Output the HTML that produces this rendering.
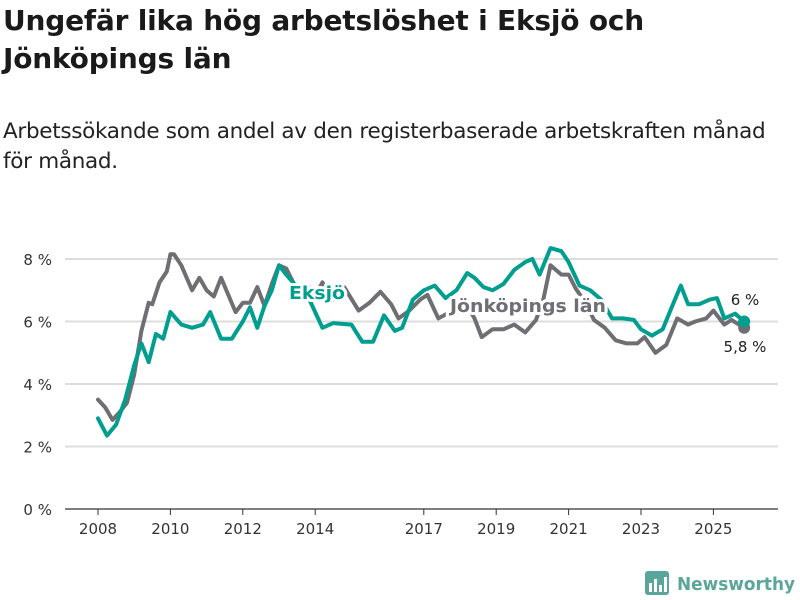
<!DOCTYPE html>
<html><head><meta charset="utf-8"><style>
body{margin:0;background:#fff;font-family:"DejaVu Sans","Liberation Sans",sans-serif;}
#w{position:relative;width:800px;height:600px;overflow:hidden}
h1{position:absolute;left:3px;top:2px;margin:0;font-size:28px;line-height:38px;font-weight:bold;color:#1a1a1a;letter-spacing:-0.2px}
p.sub{position:absolute;left:3px;top:117px;margin:0;font-size:21.5px;line-height:30px;color:#222;letter-spacing:-0.3px}
svg{position:absolute;left:0;top:0}
</style></head><body><div id="w">
<h1>Ungefär lika hög arbetslöshet i Eksjö och<br>Jönköpings län</h1>
<p class="sub">Arbetssökande som andel av den registerbaserade arbetskraften månad<br>för månad.</p>
<svg id="c" width="800" height="600"></svg>
</div>
<script>
const eksDates=[2008.0,2008.25,2008.5,2008.75,2009.0,2009.2,2009.4,2009.6,2009.8,2010.0,2010.3,2010.6,2010.9,2011.1,2011.4,2011.7,2012.0,2012.2,2012.4,2012.6,2012.8,2013.0,2013.2,2013.5,2013.8,2014.2,2014.5,2015.0,2015.3,2015.6,2015.9,2016.2,2016.4,2016.7,2017.0,2017.3,2017.6,2017.9,2018.2,2018.4,2018.65,2018.9,2019.2,2019.5,2019.8,2020.0,2020.2,2020.5,2020.8,2021.0,2021.3,2021.6,2021.9,2022.2,2022.5,2022.8,2023.0,2023.3,2023.6,2023.9,2024.1,2024.3,2024.6,2024.9,2025.1,2025.3,2025.6,2025.85];
const eksVals=[2.9,2.35,2.7,3.5,4.6,5.3,4.7,5.6,5.45,6.3,5.9,5.8,5.9,6.3,5.45,5.45,6.0,6.45,5.8,6.5,7.0,7.8,7.5,7.1,6.8,5.8,5.95,5.9,5.35,5.35,6.2,5.7,5.8,6.7,7.0,7.15,6.75,7.0,7.55,7.4,7.1,7.0,7.2,7.65,7.9,8.0,7.5,8.35,8.25,7.9,7.15,7.0,6.7,6.1,6.1,6.05,5.75,5.55,5.75,6.6,7.15,6.55,6.55,6.7,6.75,6.1,6.25,6.0];
const jkpDates=[2008.0,2008.2,2008.4,2008.6,2008.8,2009.0,2009.2,2009.4,2009.5,2009.7,2009.9,2010.0,2010.1,2010.3,2010.6,2010.8,2011.0,2011.2,2011.4,2011.6,2011.8,2012.0,2012.2,2012.4,2012.6,2012.8,2013.0,2013.2,2013.5,2013.8,2014.0,2014.2,2014.5,2014.8,2015.2,2015.5,2015.8,2016.1,2016.3,2016.6,2016.9,2017.1,2017.4,2017.8,2018.1,2018.4,2018.6,2018.9,2019.2,2019.5,2019.8,2020.1,2020.3,2020.5,2020.8,2021.0,2021.2,2021.5,2021.7,2022.0,2022.3,2022.6,2022.9,2023.1,2023.4,2023.7,2024.0,2024.3,2024.5,2024.8,2025.0,2025.3,2025.5,2025.85];
const jkpVals=[3.5,3.25,2.85,3.1,3.4,4.3,5.7,6.6,6.55,7.25,7.6,8.15,8.15,7.8,7.0,7.4,7.0,6.8,7.4,6.85,6.3,6.6,6.6,7.1,6.5,7.2,7.8,7.7,7.0,7.15,6.8,7.25,6.7,7.1,6.35,6.6,6.95,6.55,6.1,6.35,6.7,6.85,6.1,6.35,6.7,6.1,5.5,5.75,5.75,5.9,5.65,6.05,6.7,7.8,7.5,7.5,7.05,6.55,6.05,5.8,5.4,5.3,5.3,5.5,5.0,5.25,6.1,5.9,6.0,6.1,6.35,5.9,6.05,5.8];
const yTicks=[0,2,4,6,8];
const xTicks=[2008,2010,2012,2014,2017,2019,2021,2023,2025];
const NS='http://www.w3.org/2000/svg',svg=document.getElementById('c');
const X=v=>98+(v-2008)*36.2, Y=v=>509-v*31.25;
function mk(t,a,txt){const e=document.createElementNS(NS,t);for(const k in a)e.setAttribute(k,a[k]);if(txt!==undefined)e.textContent=txt;svg.appendChild(e);return e;}
yTicks.forEach(v=>{
 const g=mk('line',{x1:65,x2:778,y1:Y(v),y2:Y(v),stroke:v===0?'#333':'#ddd','stroke-width':v===0?1.2:2});
 
 
 const t=mk('text',{x:52,y:Y(v)+6,'text-anchor':'end','font-size':15,fill:'#333'},v+' %');
 
 
});
xTicks.forEach(v=>{
 const l=mk('line',{x1:X(v),x2:X(v),y1:509,y2:515,stroke:'#333'});
 
 
 const t=mk('text',{x:X(v),y:534,'text-anchor':'middle','font-size':15,fill:'#333'},v);
 
 
});
function line(d,v,c,n){const p=mk('path',{d:d.map((x,i)=>(i?'L':'M')+X(x).toFixed(1)+','+Y(v[i]).toFixed(1)).join(''),fill:'none',stroke:c,'stroke-width':4,'stroke-linejoin':'round','stroke-linecap':'round'});
 
 
 const ci=mk('circle',{cx:X(d[d.length-1]),cy:Y(v[v.length-1]),r:6,fill:c});
 
 }
line(jkpDates,jkpVals,'#6f6e73','line-jonkopings-lan');
line(eksDates,eksVals,'#009e8f','line-eksjo');
function lab(x,y,txt,c,n,fs,tl){const t=mk('text',{x:x,y:y,'font-size':fs,'font-weight':'bold',fill:c,stroke:'#fff','stroke-width':6,'stroke-linejoin':'round','paint-order':'stroke',textLength:tl,lengthAdjust:'spacingAndGlyphs'},txt);
 
 }
lab(289,299,'Eksjö','#009e8f','label-eksjo',18,56);
lab(450,312,'Jönköpings län','#6f6e73','label-jonkopings-lan',18,156);
const a=mk('text',{x:745,y:305,'text-anchor':'middle','font-size':15,fill:'#222'},'6 %');


const b=mk('text',{x:745,y:352,'text-anchor':'middle','font-size':15,fill:'#222'},'5,8 %');


const lg=mk('g',{});


lg.innerHTML='<rect x="645" y="571" width="24" height="24" rx="3" fill="#5aa69a"/><rect x="649" y="583" width="3" height="9" fill="#fff"/><rect x="654" y="579" width="3" height="13" fill="#fff"/><rect x="659" y="585" width="3" height="7" fill="#fff"/><rect x="664" y="577" width="3" height="15" fill="#fff"/><text x="677" y="590" font-size="18" font-weight="bold" fill="#5aa69a" textLength="118" lengthAdjust="spacingAndGlyphs">Newsworthy</text>';
</script></body></html>
